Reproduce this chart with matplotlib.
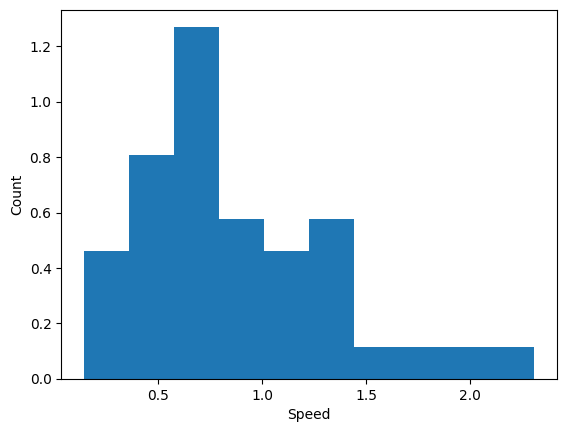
import numpy as np
import matplotlib
matplotlib.use("Agg")
import matplotlib.pyplot as plt

# histogram: 10 equal bins, counts per bin (40 samples)
speed_min = 0.143
speed_max = 2.309
counts = [4, 7, 11, 5, 4, 5, 1, 1, 1, 1]

edges = np.linspace(speed_min, speed_max, len(counts) + 1)
centers = (edges[:-1] + edges[1:]) / 2

fig = plt.figure(figsize=(5.67, 4.32), dpi=100)
plt.subplots_adjust(left=0.108, right=0.982, top=0.978, bottom=0.123)
plt.hist(centers, bins=edges, weights=counts, density=True)
plt.xlabel("Speed")
plt.ylabel("Count")
plt.savefig("out.png")
